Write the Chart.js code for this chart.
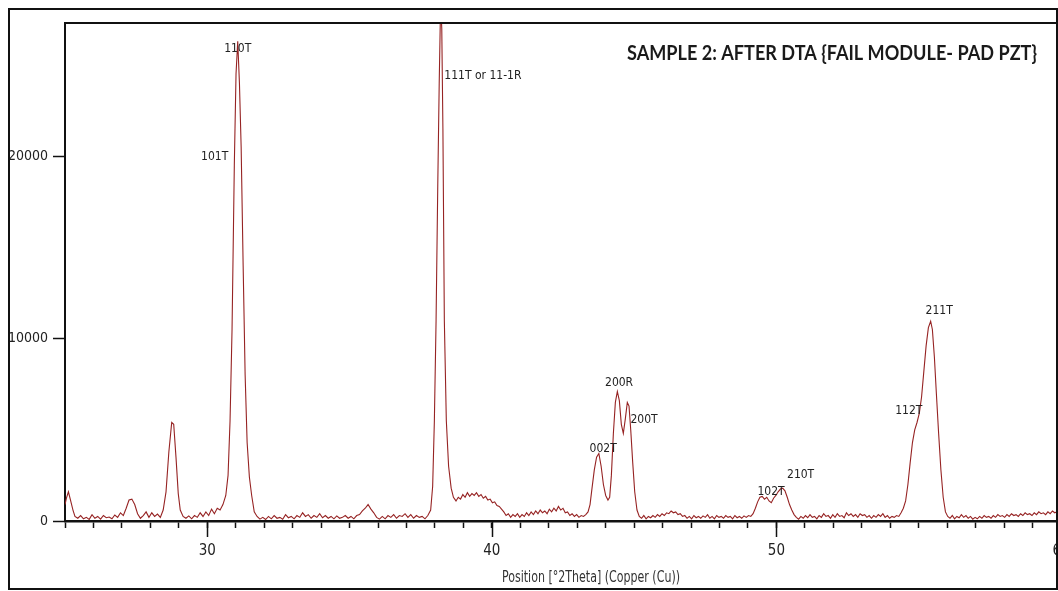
<!DOCTYPE html>
<html>
<head>
<meta charset="utf-8">
<script src="https://cdn.jsdelivr.net/npm/chart.js@4.4.1/dist/chart.umd.min.js"></script>
<style>
  html, body { margin: 0; padding: 0; background: #fff; overflow: hidden; }
  #wrap { position: relative; width: 1058px; height: 591px; overflow: hidden; }
  #xrd { position: absolute; left: 0; top: 0; }
  #frame { position: absolute; left: 8px; top: 8px; width: 1046px; height: 578px; border: 2px solid #111; pointer-events: none; }
</style>
</head>
<body>
<div id="wrap">
  <canvas id="xrd" width="1100" height="591"></canvas>
  <div id="frame"></div>
</div>
<script>
// 2theta positions (degrees) and counts
const twoTheta = [
  25.00, 25.05, 25.12, 25.20, 25.28, 25.35, 25.45, 25.55, 25.65, 25.75, 25.85, 25.95,
  26.05, 26.15, 26.25, 26.35, 26.45, 26.55, 26.65, 26.75, 26.85, 26.95,
  27.05, 27.15, 27.25, 27.35, 27.45, 27.55, 27.65, 27.75, 27.85, 27.95,
  28.05, 28.15, 28.25, 28.35, 28.45, 28.55, 28.65, 28.75, 28.82, 28.90, 28.98,
  29.05, 29.15, 29.25, 29.35, 29.45, 29.55, 29.65, 29.75, 29.85, 29.95,
  30.05, 30.15, 30.25, 30.35, 30.45, 30.55, 30.65, 30.73, 30.80, 30.87, 30.95,
  31.01, 31.07, 31.13, 31.19, 31.26, 31.33, 31.40, 31.48, 31.56, 31.65, 31.75, 31.85, 31.95,
  32.05, 32.15, 32.25, 32.35, 32.45, 32.55, 32.65, 32.75, 32.85, 32.95,
  33.05, 33.15, 33.25, 33.35, 33.45, 33.55, 33.65, 33.75, 33.85, 33.95,
  34.05, 34.15, 34.25, 34.35, 34.45, 34.55, 34.65, 34.75, 34.85, 34.95,
  35.05, 35.15, 35.25, 35.35, 35.45, 35.55, 35.65, 35.75, 35.85, 35.95,
  36.05, 36.15, 36.25, 36.35, 36.45, 36.55, 36.65, 36.75, 36.85, 36.95,
  37.05, 37.15, 37.25, 37.35, 37.45, 37.55, 37.65, 37.75, 37.85, 37.92, 37.98,
  38.04, 38.10, 38.15, 38.20, 38.24, 38.28, 38.33, 38.40, 38.48, 38.57, 38.65, 38.74,
  38.82, 38.90, 38.98, 39.06, 39.14, 39.22, 39.30, 39.38, 39.46, 39.54, 39.62, 39.70,
  39.78, 39.86, 39.94, 40.02, 40.10, 40.18, 40.26, 40.34, 40.42, 40.50, 40.58, 40.66,
  40.74, 40.82, 40.90, 40.98, 41.06, 41.14, 41.22, 41.30, 41.38, 41.46, 41.54, 41.62,
  41.70, 41.78, 41.86, 41.94, 42.02, 42.10, 42.18, 42.26, 42.34, 42.42, 42.50, 42.58,
  42.66, 42.74, 42.82, 42.90, 42.98, 43.06, 43.14, 43.22, 43.30, 43.38, 43.45, 43.52,
  43.60, 43.68, 43.76, 43.84, 43.92, 44.00, 44.08, 44.14, 44.20, 44.27, 44.34, 44.41,
  44.48, 44.55, 44.62, 44.69, 44.76, 44.82, 44.88, 44.95, 45.02, 45.10, 45.18, 45.26,
  45.34, 45.42, 45.50, 45.58, 45.66, 45.74, 45.82, 45.90, 45.98, 46.06, 46.14, 46.22,
  46.30, 46.38, 46.46, 46.54, 46.62, 46.70, 46.78, 46.86, 46.94, 47.02, 47.10, 47.18,
  47.26, 47.34, 47.42, 47.50, 47.58, 47.66, 47.74, 47.82, 47.90, 47.98, 48.06, 48.14,
  48.22, 48.30, 48.38, 48.46, 48.54, 48.62, 48.70, 48.78, 48.86, 48.94, 49.02, 49.10,
  49.18, 49.26, 49.34, 49.42, 49.50, 49.58, 49.66, 49.74, 49.82, 49.90, 49.98, 50.06,
  50.14, 50.22, 50.30, 50.38, 50.46, 50.54, 50.62, 50.70, 50.78, 50.86, 50.94, 51.02,
  51.10, 51.18, 51.26, 51.34, 51.42, 51.50, 51.58, 51.66, 51.74, 51.82, 51.90, 51.98,
  52.06, 52.14, 52.22, 52.30, 52.38, 52.46, 52.54, 52.62, 52.70, 52.78, 52.86, 52.94,
  53.02, 53.10, 53.18, 53.26, 53.34, 53.42, 53.50, 53.58, 53.66, 53.74, 53.82, 53.90,
  53.98, 54.06, 54.14, 54.22, 54.30, 54.38, 54.46, 54.54, 54.62, 54.70, 54.78, 54.86,
  54.94, 55.02, 55.10, 55.18, 55.26, 55.34, 55.42, 55.48, 55.55, 55.62, 55.70, 55.78,
  55.86, 55.94, 56.02, 56.10, 56.18, 56.26, 56.34, 56.42, 56.50, 56.58, 56.66, 56.74,
  56.82, 56.90, 56.98, 57.06, 57.14, 57.22, 57.30, 57.38, 57.46, 57.54, 57.62, 57.70,
  57.78, 57.86, 57.94, 58.02, 58.10, 58.18, 58.26, 58.34, 58.42, 58.50, 58.58, 58.66,
  58.74, 58.82, 58.90, 58.98, 59.06, 59.14, 59.22, 59.30, 59.38, 59.46, 59.54, 59.62,
  59.70, 59.78, 59.86, 59.94, 60.02
];
const counts = [
  900, 1250, 1600, 1100, 600, 250, 150, 300, 120, 200, 90, 350,
  150, 250, 100, 300, 180, 220, 120, 330, 200, 450,
  300, 700, 1150, 1200, 900, 400, 150, 300, 500, 200,
  450, 250, 380, 200, 600, 1600, 3800, 5400, 5300, 3500, 1500,
  600, 250, 150, 280, 120, 300, 200, 450, 250, 500,
  300, 650, 400, 700, 600, 900, 1400, 2500, 5500, 10500, 19500,
  24500, 26300, 24000, 20500, 14000, 8000, 4300, 2400, 1400, 500, 250, 100, 200,
  80, 250, 120, 300, 150, 200, 100, 350, 180, 250,
  120, 300, 200, 450, 250, 350, 150, 300, 200, 400,
  180, 300, 150, 250, 120, 280, 150, 200, 300, 150,
  250, 120, 300, 350, 550, 700, 900, 650, 450, 200,
  100, 250, 120, 300, 200, 350, 150, 300, 250, 400,
  200, 350, 150, 300, 200, 250, 120, 300, 600, 1900, 5500,
  11000, 18500, 24000, 28500, 27000, 21500, 11000, 5500, 3000, 1800, 1300, 1100,
  1300, 1200, 1450, 1300, 1550, 1350, 1500, 1400, 1550, 1350, 1450, 1250,
  1350, 1150, 1200, 1000, 1050, 850, 800, 650, 500, 300, 400, 200,
  350, 250, 400, 200, 350, 250, 450, 300, 500, 350, 550, 400,
  600, 450, 550, 400, 650, 500, 700, 550, 800, 600, 700, 450,
  500, 300, 400, 250, 350, 200, 300, 250, 350, 500, 900, 1800,
  2800, 3500, 3700, 3000, 2000, 1400, 1150, 1300, 2500, 4800, 6500, 7100,
  6600, 5300, 4800, 5600, 6500, 6300, 5000, 3200, 1600, 600, 250, 150,
  300, 120, 250, 180, 300, 200, 350, 250, 400, 300, 450, 400,
  550, 450, 500, 350, 400, 250, 300, 150, 250, 120, 300, 180,
  250, 150, 280, 200, 350, 150, 250, 120, 300, 200, 250, 150,
  300, 200, 250, 120, 300, 180, 250, 150, 280, 200, 300, 250,
  400, 700, 1050, 1300, 1350, 1200, 1300, 1100, 1000, 1250, 1400, 1600,
  1750, 1800, 1650, 1300, 900, 600, 350, 200, 100, 250, 150, 300,
  180, 350, 200, 250, 120, 300, 200, 400, 250, 300, 150, 350,
  200, 400, 250, 300, 180, 450, 300, 400, 250, 350, 200, 400,
  300, 350, 200, 300, 150, 300, 200, 350, 250, 400, 200, 300,
  150, 250, 200, 300, 250, 450, 700, 1100, 2000, 3200, 4300, 5000,
  5400, 5900, 6800, 8200, 9600, 10600, 10950, 10500, 9000, 7000, 4800, 2800,
  1300, 500, 250, 150, 300, 120, 250, 180, 350, 200, 300, 150,
  250, 100, 200, 120, 250, 150, 300, 200, 250, 150, 300, 200,
  350, 250, 300, 200, 350, 250, 400, 300, 350, 250, 400, 300,
  450, 350, 400, 300, 450, 350, 500, 400, 450, 350, 500, 400,
  550, 450, 500, 600, 450
];

// reflection labels and where they sit (2theta, counts)
const peakNames = ['110T', '101T', '111T or 11-1R', '002T', '200R', '200T', '102T', '210T', '112T', '211T'];
const peakX = [31.07, 30.26, 38.33, 43.91, 44.47, 45.35, 49.81, 50.85, 54.65, 55.72];
const peakY = [25900, 19950, 24400, 3950, 7560, 5530, 1590, 2520, 6040, 11520];
const peakAlign = ['center', 'center', 'left', 'center', 'center', 'center', 'center', 'center', 'center', 'center'];

const yTicks = [0, 10000, 20000];
const majorX = [30, 40, 50, 60];

const chartTitle = 'SAMPLE 2: AFTER DTA {FAIL MODULE- PAD PZT}';
const xTitle = 'Position [°2Theta] (Copper (Cu))';

const narrow = '"Liberation Sans Narrow", "DejaVu Sans Condensed", "Liberation Sans", sans-serif';

const points = twoTheta.map((x, i) => ({ x: x, y: counts[i] }));

// draw text squeezed horizontally so it spans a given width
function fitText(ctx, text, cx, cy, width, align) {
  const w = ctx.measureText(text).width;
  const k = Math.min(1, width / w);
  ctx.save();
  ctx.translate(cx, cy);
  ctx.scale(k, 1);
  ctx.textAlign = align;
  ctx.fillText(text, 0, 0);
  ctx.restore();
}

const decorations = {
  id: 'decorations',
  afterDraw(chart) {
    const { ctx, chartArea, scales } = chart;
    const xs = scales.x, ys = scales.y;
    ctx.save();

    // top frame line
    ctx.strokeStyle = '#111';
    ctx.lineWidth = 2;
    ctx.beginPath();
    ctx.moveTo(chartArea.left - 1, chartArea.top);
    ctx.lineTo(chart.width, chartArea.top);
    ctx.stroke();

    // longer major ticks on the x axis
    ctx.lineWidth = 1.5;
    majorX.forEach(v => {
      const px = Math.round(xs.getPixelForValue(v)) + 0.5;
      ctx.beginPath();
      ctx.moveTo(px, chartArea.bottom);
      ctx.lineTo(px, chartArea.bottom + 16);
      ctx.stroke();
    });

    // peak labels
    ctx.fillStyle = '#222';
    ctx.font = '12px ' + narrow;
    ctx.textBaseline = 'middle';
    peakNames.forEach((name, i) => {
      ctx.textAlign = peakAlign[i];
      ctx.fillText(name, xs.getPixelForValue(peakX[i]), ys.getPixelForValue(peakY[i]));
    });

    // title, top right
    ctx.fillStyle = '#1a1a1a';
    ctx.font = 'bold 21px Lato, "Open Sans", sans-serif';
    ctx.textBaseline = 'middle';
    fitText(ctx, chartTitle, 1037, 53, 410, 'right');

    // x axis title
    ctx.fillStyle = '#333';
    ctx.font = '15px ' + narrow;
    fitText(ctx, xTitle, 591, 578, 178, 'center');

    ctx.restore();
  }
};

new Chart(document.getElementById('xrd'), {
  type: 'line',
  data: {
    datasets: [{
      data: points,
      borderColor: 'rgb(150, 35, 35)',
      borderWidth: 1.1,
      pointRadius: 0,
      tension: 0,
      fill: false
    }]
  },
  options: {
    responsive: false,
    animation: false,
    events: [],
    layout: { padding: { left: 0, top: 23, right: 39, bottom: 0 } },
    plugins: {
      legend: { display: false },
      tooltip: { enabled: false }
    },
    scales: {
      x: {
        type: 'linear',
        min: 25,
        max: 60,
        afterFit: s => { s.height = 70; },
        grid: {
          drawOnChartArea: false,
          tickLength: 7,
          tickColor: '#111',
          tickWidth: 1.5
        },
        border: { color: '#111', width: 2.5 },
        ticks: {
          stepSize: 1,
          autoSkip: false,
          maxRotation: 0,
          padding: 14,
          color: '#222',
          font: { family: narrow, size: 15 },
          callback: v => (v % 10 === 0 ? String(v) : '')
        }
      },
      y: {
        min: 0,
        max: 27300,
        afterFit: s => { s.width = 65; },
        afterBuildTicks: s => { s.ticks = yTicks.map(v => ({ value: v })); },
        grid: {
          drawOnChartArea: false,
          tickLength: 12,
          tickColor: '#111',
          tickWidth: 1.5
        },
        border: { color: '#111', width: 2 },
        ticks: {
          padding: 5,
          color: '#222',
          font: { family: narrow, size: 14 },
          callback: v => String(v)
        }
      }
    }
  },
  plugins: [decorations]
});
</script>
</body>
</html>
